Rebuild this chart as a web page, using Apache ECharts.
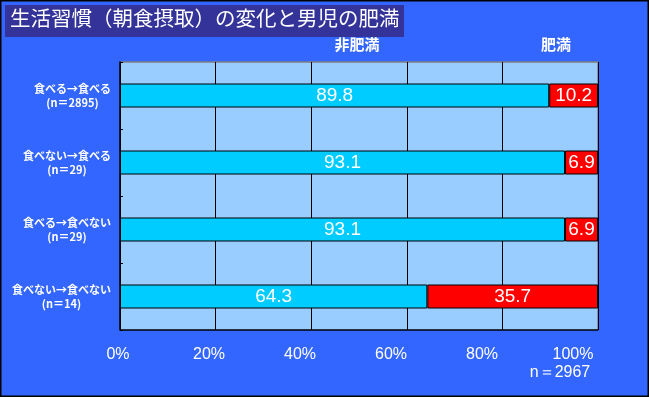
<!DOCTYPE html>
<html>
<head>
<meta charset="utf-8">
<script src="https://cdn.jsdelivr.net/npm/echarts@6/dist/echarts.min.js"></script>
<style>
  html, body { margin: 0; padding: 0; background: #3366ff; }
  #chart { width: 649px; height: 397px; }
</style>
</head>
<body>
<div id="chart"></div>
<script>
// 朝食摂取の変化（カテゴリ）
const categories = [
  '食べる→食べる\n(n＝2895)',
  '食べない→食べる\n(n＝29)',
  '食べる→食べない\n(n＝29)',
  '食べない→食べない\n(n＝14)'
];
const seriesNames = ['非肥満', '肥満'];
const nonObese = [89.8, 93.1, 93.1, 64.3];
const obese = [10.2, 6.9, 6.9, 35.7];
const xTicks = [0, 20, 40, 60, 80, 100];

const font = '"Noto Sans CJK JP", "Liberation Sans", sans-serif';
const numFont = '"Liberation Sans", Arial, sans-serif';

const chart = echarts.init(document.getElementById('chart'), null, { renderer: 'canvas' });

const barLabel = {
  show: true,
  position: 'inside',
  color: '#fff',
  fontFamily: numFont,
  fontSize: 19,
  formatter: (p) => p.value.toFixed(1)
};

chart.setOption({
  backgroundColor: '#3366ff',
  animation: false,
  grid: [
    { left: 120, right: 51, top: 62, bottom: 67 },
    // 目盛ラベル用（Excel風に少し詰めた間隔）
    { left: 118, right: 76, top: 62, bottom: 67 }
  ],
  graphic: [
    // 外枠
    { type: 'rect', shape: { x: 0.75, y: 0.75, width: 647.5, height: 395.5 },
      style: { fill: 'none', stroke: '#000', lineWidth: 1.5 }, z: 100 },
    // タイトル
    { type: 'rect', shape: { x: 5, y: 5, width: 399, height: 32 },
      style: { fill: '#333399' } },
    { type: 'text', left: 10, top: 8,
      style: { text: '生活習慣（朝食摂取）の変化と男児の肥満', fill: '#fff',
               font: '20.5px ' + font } },
    // 列見出し
    { type: 'text', x: 357, y: 44,
      style: { text: seriesNames[0], fill: '#fff', align: 'center', verticalAlign: 'middle',
               font: 'bold 15px ' + font } },
    { type: 'text', x: 556, y: 44,
      style: { text: seriesNames[1], fill: '#fff', align: 'center', verticalAlign: 'middle',
               font: 'bold 15px ' + font } },
    { type: 'text', x: 560, y: 373,
      style: { text: 'n＝2967', fill: '#fff', align: 'center', verticalAlign: 'middle',
               font: '16px ' + numFont } }
  ],
  xAxis: [
    {
      type: 'value', gridIndex: 0,
      min: 0, max: 100, interval: 20,
      axisLine: { show: false },
      axisTick: { show: false },
      axisLabel: { show: false },
      splitLine: { show: true, lineStyle: { color: '#000', width: 1 } }
    },
    {
      type: 'value', gridIndex: 1,
      min: 0, max: 100, interval: 20,
      axisLine: { show: false },
      axisTick: { show: false },
      axisLabel: {
        color: '#fff', fontFamily: numFont, fontSize: 16, margin: 17,
        formatter: (v) => (xTicks.includes(v) ? v + '%' : '')
      },
      splitLine: { show: false }
    }
  ],
  yAxis: [
    {
      type: 'category', gridIndex: 0,
      inverse: true,
      data: categories,
      axisLine: { show: true, lineStyle: { color: '#000', width: 1.5 } },
      axisTick: { show: true, inside: true, length: 3, lineStyle: { color: '#000' } },
      axisLabel: {
        margin: 9,
        align: 'right',
        formatter: (v) => v.split('\n').map((s) => '{a|' + s + '}').join('\n'),
        rich: {
          a: { color: '#fff', fontFamily: font, fontWeight: 'bold', fontSize: 11,
               lineHeight: 14, align: 'center' }
        }
      },
      splitLine: { show: false }
    },
    { type: 'category', gridIndex: 1, data: categories, show: false }
  ],
  series: [
    {
      name: seriesNames[0], type: 'bar', stack: 'total', data: nonObese,
      barWidth: 24,
      itemStyle: { color: '#00ccff', borderColor: '#000', borderWidth: 1 },
      label: barLabel
    },
    {
      name: seriesNames[1], type: 'bar', stack: 'total', data: obese,
      barWidth: 24,
      itemStyle: { color: '#ff0000', borderColor: '#000', borderWidth: 1 },
      label: barLabel
    },
    // プロット背景と枠線
    {
      type: 'custom', silent: true, z: -1, data: [0],
      renderItem: (params, api) => {
        const c = params.coordSys;
        return {
          type: 'group',
          children: [
            { type: 'rect', shape: { x: c.x, y: c.y, width: c.width, height: c.height },
              style: { fill: '#99ccff' } },
            { type: 'polyline', shape: { points: [[c.x, c.y], [c.x + c.width, c.y], [c.x + c.width, c.y + c.height]] },
              style: { stroke: '#808080', lineWidth: 1.5, fill: 'none' } },
            { type: 'line', shape: { x1: c.x, y1: c.y + c.height, x2: c.x + c.width, y2: c.y + c.height },
              style: { stroke: '#000', lineWidth: 1.5 } }
          ]
        };
      }
    }
  ]
});
</script>
</body>
</html>
